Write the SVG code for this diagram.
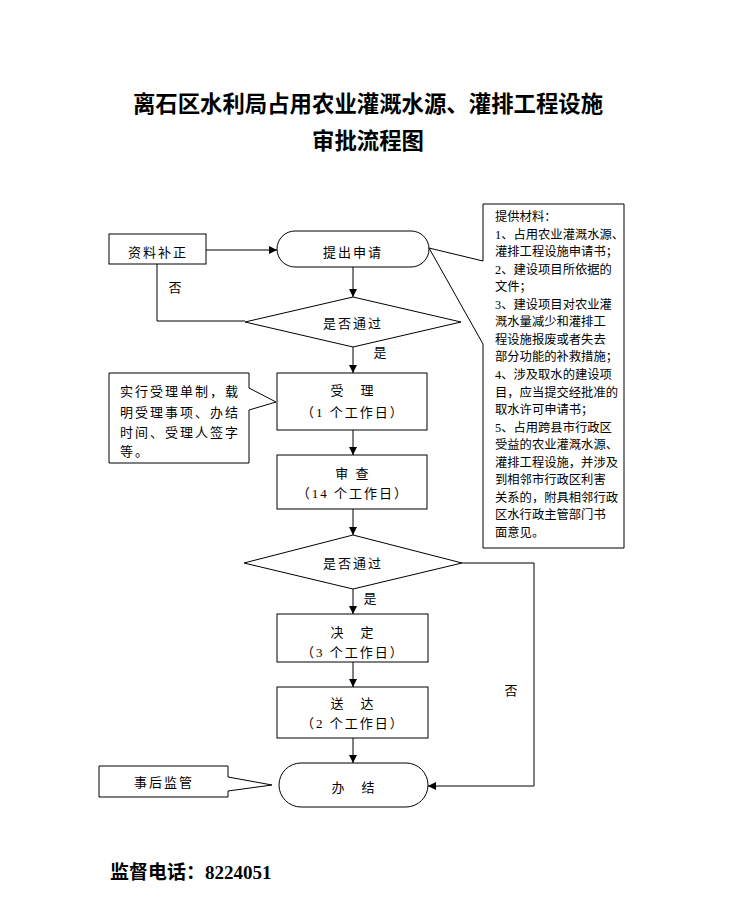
<svg xmlns="http://www.w3.org/2000/svg" width="739" height="915" viewBox="0 0 739 915">
<style>
.shape{fill:#fff;stroke:#000;stroke-width:1}
.t{font-family:"Liberation Serif","Noto Sans CJK SC",serif;font-size:13px;fill:#000;dominant-baseline:central}
.c{text-anchor:middle;letter-spacing:2px}
.note{font-family:"Liberation Serif","Noto Sans CJK SC",serif;font-size:12.3px;fill:#000;dominant-baseline:central}
.title{font-family:"Noto Sans CJK SC","Liberation Sans",sans-serif;font-size:22.4px;font-weight:bold;text-anchor:middle;dominant-baseline:central;fill:#000}
.phone{font-family:"Liberation Serif","Noto Sans CJK SC",serif;font-size:19px;font-weight:bold;dominant-baseline:central;fill:#000}
.conn{fill:none;stroke:#000;stroke-width:1}
</style>
<defs>
<marker id="arr" markerUnits="userSpaceOnUse" markerWidth="8" markerHeight="8" refX="8" refY="4" orient="auto">
<path d="M0,0 L8,4 L0,8 Z" fill="#000"/>
</marker>
</defs>
<rect width="739" height="915" fill="#fff"/>
<g id="title">
<text class="title" x="368" y="102">离石区水利局占用农业灌溉水源、灌排工程设施</text>
<text class="title" x="368" y="139">审批流程图</text>
</g>
<g id="connectors">
<line class="conn" x1="206" y1="250" x2="277" y2="250" marker-end="url(#arr)"/>
<line class="conn" x1="353" y1="267" x2="353" y2="297" marker-end="url(#arr)"/>
<polyline class="conn" points="245,321 157,321 157,264"/>
<line class="conn" x1="353" y1="347" x2="353" y2="373" marker-end="url(#arr)"/>
<line class="conn" x1="353" y1="430" x2="353" y2="455" marker-end="url(#arr)"/>
<line class="conn" x1="353" y1="509" x2="353" y2="535" marker-end="url(#arr)"/>
<line class="conn" x1="353" y1="589" x2="353" y2="614" marker-end="url(#arr)"/>
<polyline class="conn" points="462,563 534,563 534,786 428,786" marker-end="url(#arr)"/>
<line class="conn" x1="353" y1="662" x2="353" y2="687" marker-end="url(#arr)"/>
<line class="conn" x1="353" y1="738" x2="353" y2="763" marker-end="url(#arr)"/>
<text class="t" x="175" y="287" text-anchor="middle">否</text>
<text class="t" x="380" y="352" text-anchor="middle">是</text>
<text class="t" x="370" y="598" text-anchor="middle">是</text>
<text class="t" x="511" y="690" text-anchor="middle">否</text>
</g>
<g id="n_buzheng">
<rect class="shape" x="109" y="234" width="97" height="30"/>
<text class="t c" x="158" y="252">资料补正</text>
</g>
<g id="n_tichu">
<rect class="shape" x="277" y="231" width="152" height="36" rx="18" ry="18"/>
<text class="t c" x="353" y="252">提出申请</text>
</g>
<g id="n_materials">
<path class="shape" d="M483,204 H624 V548 H483 V344 L429,248 L483,261 Z"/>
<text class="note">
<tspan x="495" y="217">提供材料：</tspan>
<tspan x="495" y="234.6">1、占用农业灌溉水源、</tspan>
<tspan x="495" y="252.1">灌排工程设施申请书；</tspan>
<tspan x="495" y="269.7">2、建设项目所依据的</tspan>
<tspan x="495" y="287.2">文件；</tspan>
<tspan x="495" y="304.8">3、建设项目对农业灌</tspan>
<tspan x="495" y="322.3">溉水量减少和灌排工</tspan>
<tspan x="495" y="339.9">程设施报废或者失去</tspan>
<tspan x="495" y="357.4">部分功能的补救措施；</tspan>
<tspan x="495" y="375">4、涉及取水的建设项</tspan>
<tspan x="495" y="392.5">目，应当提交经批准的</tspan>
<tspan x="495" y="410.1">取水许可申请书；</tspan>
<tspan x="495" y="427.6">5、占用跨县市行政区</tspan>
<tspan x="495" y="445.2">受益的农业灌溉水源、</tspan>
<tspan x="495" y="462.7">灌排工程设施，并涉及</tspan>
<tspan x="495" y="480.3">到相邻市行政区利害</tspan>
<tspan x="495" y="497.8">关系的，附具相邻行政</tspan>
<tspan x="495" y="515.4">区水行政主管部门书</tspan>
<tspan x="495" y="532.9">面意见。</tspan>
</text>
</g>
<g id="n_check1">
<polygon class="shape" points="353,297 461,322 353,347 245,322"/>
<text class="t c" x="353" y="323">是否通过</text>
</g>
<g id="n_shouli_note">
<path class="shape" d="M109,373 H249 V388 L276,402 L249,410 V463 H109 Z"/>
<text class="t" style="letter-spacing:2px">
<tspan x="120" y="391">实行受理单制，载</tspan>
<tspan x="120" y="412">明受理事项、办结</tspan>
<tspan x="120" y="432">时间、受理人签字</tspan>
<tspan x="120" y="451">等。</tspan>
</text>
</g>
<g id="n_shouli">
<rect class="shape" x="277" y="373" width="150" height="57"/>
<text class="t c" x="353" y="390">受　理</text>
<text class="t c" x="353" y="412">（1 个工作日）</text>
</g>
<g id="n_shencha">
<rect class="shape" x="277" y="455" width="150" height="54"/>
<text class="t c" x="353" y="473">审 查</text>
<text class="t c" x="353" y="493">（14 个工作日）</text>
</g>
<g id="n_check2">
<polygon class="shape" points="353,535 462,563 353,589 244,563"/>
<text class="t c" x="353" y="563">是否通过</text>
</g>
<g id="n_jueding">
<rect class="shape" x="277" y="614" width="151" height="48"/>
<text class="t c" x="353" y="632">决　定</text>
<text class="t c" x="353" y="652">（3 个工作日）</text>
</g>
<g id="n_songda">
<rect class="shape" x="277" y="687" width="151" height="51"/>
<text class="t c" x="353" y="703">送　达</text>
<text class="t c" x="353" y="723">（2 个工作日）</text>
</g>
<g id="n_banjie">
<rect class="shape" x="279" y="763" width="149" height="44" rx="22" ry="22"/>
<text class="t c" x="354" y="787">办　结</text>
</g>
<g id="n_jianguan">
<path class="shape" d="M99,766 H228 V777 L272,785 L228,791 V797 H99 Z"/>
<text class="t c" x="164" y="782">事后监管</text>
</g>
<g id="footer">
<text class="phone" x="110" y="872">监督电话：8224051</text>
</g>
</svg>
